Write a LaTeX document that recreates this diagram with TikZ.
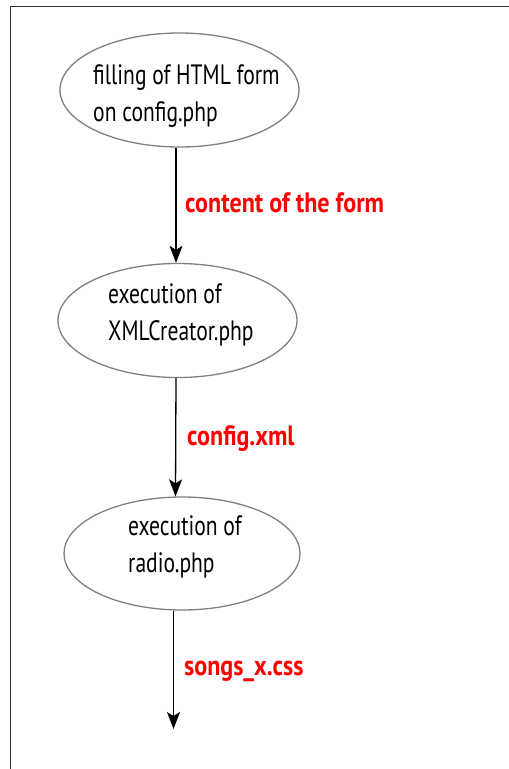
\documentclass[tikz,border=0pt]{standalone}
\usepackage{fontspec}
\setmainfont[FakeStretch=0.77]{PT Sans}
\newfontfamily\labelfont[FakeStretch=0.86]{PT Sans Bold}
\usetikzlibrary{shapes.geometric,arrows.meta}
\definecolor{ellgray}{RGB}{128,128,128}
\definecolor{lblred}{RGB}{255,0,0}
\tikzset{
  stepell/.style={draw=ellgray, line width=1.3pt, ellipse, inner sep=0pt},
  steptxt/.style={inner sep=0pt, anchor=base west, align=left, font=\fontsize{28}{37}\selectfont},
  flowlbl/.style={inner sep=0pt, anchor=base west, text=lblred, font=\labelfont\fontsize{28}{34}\selectfont},
  flowarr/.style={line width=1.3pt, -{Stealth[length=17pt,width=13pt,inset=4pt]}},
  frameline/.style={draw=black!80, line width=1pt}
}
\begin{document}
\begin{tikzpicture}[x=1pt,y=-1pt]
\useasboundingbox (0,0) rectangle (509,769);
\draw[frameline] (10,780) -- (10,6.5) -- (520,6.5);
\node[stepell, minimum width=239pt, minimum height=114pt] (e1) at (179.5,90) {};
\node[stepell, minimum width=239pt, minimum height=114pt] (e2) at (177.5,320.5) {};
\node[stepell, minimum width=236pt, minimum height=113pt] (e3) at (182,553.5) {};
\node[steptxt] (t1) at (93,121.5) {filling of HTML form\\on config.php};
\node[steptxt] (t2) at (108,340) {execution of\\XMLCreator.php};
\node[steptxt] (t3) at (128,572) {execution of\\radio.php};
\coordinate (end) at (173.5,729);
\draw[flowarr] ([xshift=-3.5pt]e1.south) -- ([xshift=-1.5pt]e2.north);
\draw[flowarr] ([xshift=-1.5pt]e2.south) -- ([xshift=-6.5pt]e3.north);
\draw[flowarr] ([xshift=-8.5pt]e3.south) -- (end);
\node[flowlbl] (l1) at (185,212) {content of the form};
\node[flowlbl] (l2) at (187,445) {config.xml};
\node[flowlbl] (l3) at (184,675) {songs\_x.css};
\end{tikzpicture}
\end{document}
